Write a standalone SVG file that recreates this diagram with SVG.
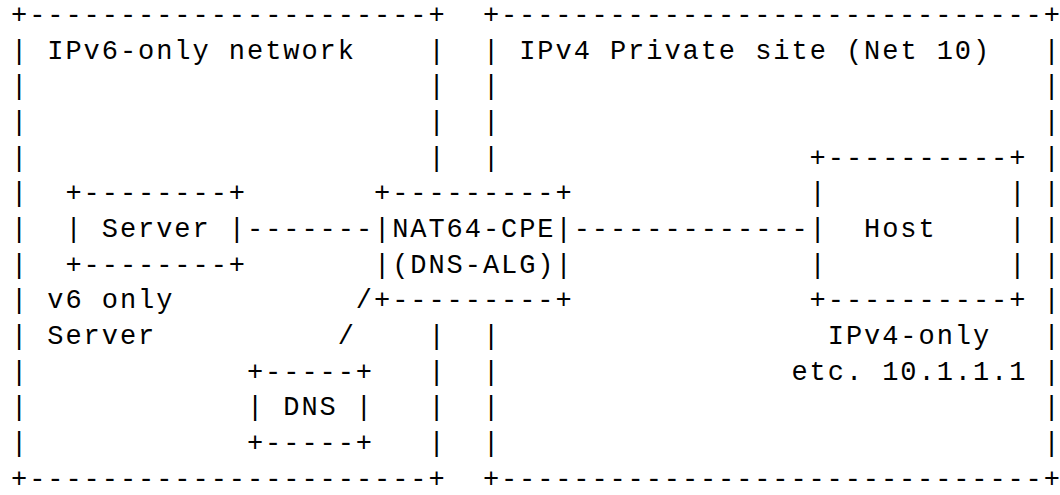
<svg xmlns="http://www.w3.org/2000/svg" width="1060" height="495" viewBox="0 0 1060 495" xml:space="preserve">
<style>
text { font-family: "Liberation Mono", "DejaVu Sans Mono", monospace; font-size: 27px; letter-spacing: 1.95px; fill: #000; white-space: pre; }
text.c { letter-spacing: 0px; }
</style>
<rect width="1060" height="495" fill="#fff"/>
<g id="ipv6-network">
<text x="11" y="23">+----------------------+</text>
<text x="11" y="486.8">+----------------------+</text>
<text class="c" x="11" y="58.68">|</text><text class="c" x="11" y="94.35">|</text><text class="c" x="11" y="130.03">|</text><text class="c" x="11" y="165.71">|</text><text class="c" x="11" y="201.38">|</text><text class="c" x="11" y="237.06">|</text><text class="c" x="11" y="272.74">|</text><text class="c" x="11" y="308.42">|</text><text class="c" x="11" y="344.09">|</text><text class="c" x="11" y="379.77">|</text><text class="c" x="11" y="415.45">|</text><text class="c" x="11" y="451.12">|</text>
<text class="c" x="428.45" y="58.68">|</text><text class="c" x="428.45" y="94.35">|</text><text class="c" x="428.45" y="130.03">|</text><text class="c" x="428.45" y="165.71">|</text><text class="c" x="428.45" y="344.09">|</text><text class="c" x="428.45" y="379.77">|</text><text class="c" x="428.45" y="415.45">|</text><text class="c" x="428.45" y="451.12">|</text>
<text x="47.3" y="58.68">IPv6-only network</text>
<text x="47.3" y="308.42">v6 only</text>
<text x="47.3" y="344.09">Server</text>
</g>
<g id="ipv4-site">
<text class="c" x="482.9" y="23" textLength="577" lengthAdjust="spacing">+------------------------------+</text>
<text class="c" x="482.9" y="486.8" textLength="577" lengthAdjust="spacing">+------------------------------+</text>
<text class="c" x="482.9" y="58.68">|</text><text class="c" x="482.9" y="94.35">|</text><text class="c" x="482.9" y="130.03">|</text><text class="c" x="482.9" y="165.71">|</text><text class="c" x="482.9" y="344.09">|</text><text class="c" x="482.9" y="379.77">|</text><text class="c" x="482.9" y="415.45">|</text><text class="c" x="482.9" y="451.12">|</text>
<text class="c" x="1043.5" y="58.68">|</text><text class="c" x="1043.5" y="94.35">|</text><text class="c" x="1043.5" y="130.03">|</text><text class="c" x="1043.5" y="165.71">|</text><text class="c" x="1043.5" y="201.38">|</text><text class="c" x="1043.5" y="237.06">|</text><text class="c" x="1043.5" y="272.74">|</text><text class="c" x="1043.5" y="308.42">|</text><text class="c" x="1043.5" y="344.09">|</text><text class="c" x="1043.5" y="379.77">|</text><text class="c" x="1043.5" y="415.45">|</text><text class="c" x="1043.5" y="451.12">|</text>
<text x="519.2" y="58.68">IPv4 Private site (Net 10)</text>
<text x="827.75" y="344.09">IPv4-only</text>
<text x="791.45" y="379.77">etc. 10.1.1.1</text>
</g>
<g id="server">
<text x="65.45" y="201.38">+--------+</text>
<text x="65.45" y="237.06">| Server |</text>
<text x="65.45" y="272.74">+--------+</text>
</g>
<g id="nat64-cpe">
<text x="374" y="201.38">+---------+</text>
<text x="374" y="237.06">|NAT64-CPE|</text>
<text x="374" y="272.74">|(DNS-ALG)|</text>
<text x="374" y="308.42">+---------+</text>
</g>
<g id="host">
<text x="809.6" y="165.71">+----------+</text>
<text x="809.6" y="201.38">|          |</text>
<text x="809.6" y="237.06">|  Host    |</text>
<text x="809.6" y="272.74">|          |</text>
<text x="809.6" y="308.42">+----------+</text>
</g>
<g id="dns">
<text x="246.95" y="379.77">+-----+</text>
<text x="246.95" y="415.45">| DNS |</text>
<text x="246.95" y="451.12">+-----+</text>
</g>
<g id="connectors">
<text x="247" y="237.06">-------</text>
<text x="573.65" y="237.06">-------------</text>
<text class="c" x="355.85" y="308.42">/</text>
<text class="c" x="337.7" y="344.09">/</text>
</g>
</svg>
